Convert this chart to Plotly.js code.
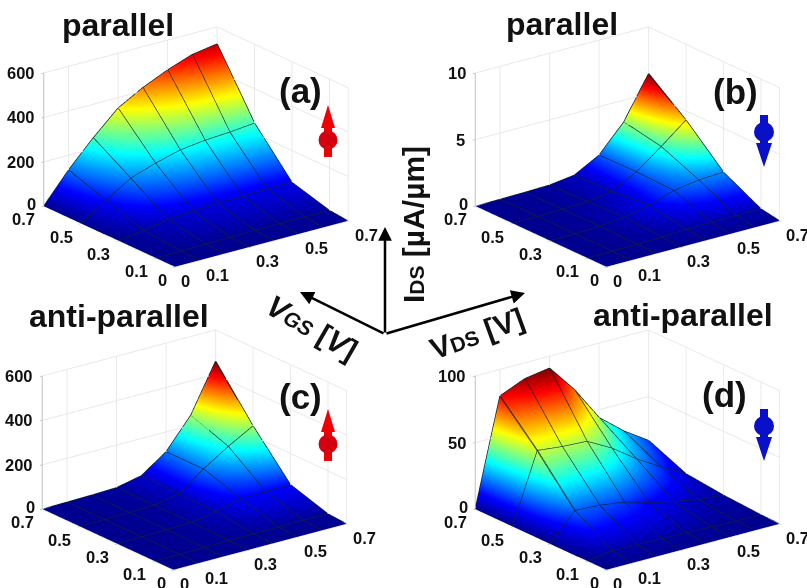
<!DOCTYPE html>
<html><head><meta charset="utf-8">
<script src="https://cdn.plot.ly/plotly-3.0.1.min.js"></script>
<style>html,body{margin:0;padding:0;background:#fff}#c{width:807px;height:588px}</style>
</head><body><div id="c"></div>
<script>
const vds=[0,0.1,0.2,0.3,0.4,0.5,0.6,0.7];
const vgs=[0,0.1,0.3,0.5,0.7];
const xyTicks=[0,0.1,0.3,0.5,0.7];
const aZ=[[0,0,0,0,0,0,0,0],
[0,2,4,5,6,7,8,8],
[0,17,35,45,50,53,55,56],
[0,74,144,182,212,226,233,244],
[0,133,248,352,415,465,505,523]];
const bZ=[[0,0,0,0,0,0,0,0],
[0,0.02,0.05,0.1,0.18,0.22,0.24,0.25],
[0,0.03,0.1,0.3,0.7,1.3,1.6,1.7],
[0,0.03,0.07,0.15,0.4,1.4,2.8,4.3],
[0,0.02,0.05,0.1,0.35,1.36,3.35,6.5]];
const cZ=[[0,0,0,0,0,0,0,0],
[0,1,2,3,4,5,6,6],
[0,1,4,8,25,55,57,59],
[0,1,3,6,27,110,182,245],
[0,2,4,8,32,110,245,459]];
const dZ=[[0,0,0,0,0,0,0,0],
[0,3,2.5,2,1.5,1,0.5,0.3],
[0,20,19,16.5,11,7,3.5,2],
[0,52,50,49,39,26,15,5],
[0,80,88,91,70,44,29,17]];
const zTicksAC=[0,200,400,600], zTicksB=[0,5,10], zTicksD=[0,50,100];
const panels=[
 {z:aZ,zMax:600,zt:zTicksAC,cx:196,cy:147,cmax:560},
 {z:bZ,zMax:10,zt:zTicksB,cx:627.5,cy:147,cmax:6.5},
 {z:cZ,zMax:600,zt:zTicksAC,cx:194.5,cy:450,cmax:459},
 {z:dZ,zMax:100,zt:zTicksD,cx:627.5,cy:450,cmax:91}];
const W=807,H=588,halfH=138;
const eyeDist=2.2, boxScale=1.575;
const jet=[[0,'rgb(0,0,143)'],[0.125,'rgb(0,0,255)'],[0.375,'rgb(0,255,255)'],[0.625,'rgb(255,255,0)'],[0.875,'rgb(255,0,0)'],[1,'rgb(128,0,0)']];
const tickfont={family:'Liberation Sans',size:16.5,color:'#111',weight:700};
const meshLine={color:'#14242e',width:2.5};
function axis(vals,range,line){return {title:{text:''},range:range,tickmode:'array',tickvals:vals,showticklabels:false,
 showgrid:true,gridcolor:'#e8e8e8',gridwidth:2,zeroline:false,showline:line,linecolor:'#c0c0c0',linewidth:2,ticks:'outside',ticklen:3,tickcolor:'#999',showspikes:false,showbackground:false};}
function tick(x,y,z,text,dx,dy){return {x:x,y:y,z:z,text:text,showarrow:false,xshift:dx,yshift:-dy,xanchor:'center',yanchor:'middle',font:tickfont};}
const data=[],layout={width:W,height:H,margin:{l:0,r:0,t:0,b:0},paper_bgcolor:'#fff',showlegend:false,annotations:[],shapes:[]};
panels.forEach((p,i)=>{
 const sid=i?'scene'+(i+1):'scene';
 data.push({type:'surface',scene:sid,x:vds,y:vgs,z:p.z,colorscale:jet,cmin:0,cmax:p.cmax,showscale:false,hoverinfo:'skip',
  lighting:{ambient:1,diffuse:0,specular:0,roughness:1,fresnel:0},
  contours:{x:{show:false,highlight:false},y:{show:false,highlight:false},z:{show:false,highlight:false}}});
 vgs.forEach((g,r)=>{ if(r>0) data.push({type:'scatter3d',scene:sid,mode:'lines',x:vds,y:vds.map(()=>g),z:p.z[r],line:meshLine,hoverinfo:'skip'}); });
 vds.forEach((v,c)=>{ if(c>0) data.push({type:'scatter3d',scene:sid,mode:'lines',x:vgs.map(()=>v),y:vgs,z:p.z.map(row=>row[c]),line:meshLine,hoverinfo:'skip'}); });
 const hw=Math.min(p.cx,W-p.cx);
 const notes=[];
 xyTicks.forEach(t=>notes.push(tick(t,0,0,String(t),t===0?11:18,14)));
 xyTicks.forEach(t=>notes.push(tick(0,t,0,String(t),t===0?-12:-20,13)));
 p.zt.forEach(t=>notes.push(tick(0,0.7,t,String(t),t===0?-12:(String(t).length===1?-15:(String(t).length===2?-18:-23)),t===0?-2:0)));
 layout[sid]={domain:{x:[(p.cx-hw)/W,(p.cx+hw)/W],y:[Math.max(0,1-(p.cy+halfH)/H),Math.min(1,1-(p.cy-halfH)/H)]},
  aspectmode:'manual',aspectratio:{x:boxScale,y:boxScale,z:0.655*boxScale},
  camera:{projection:{type:'orthographic'},center:{x:0,y:0,z:0},up:{x:0,y:0,z:1},
   eye:{x:-0.565*eyeDist,y:-0.747*eyeDist,z:0.351*eyeDist}},
  xaxis:axis(xyTicks,[0,0.7],false),yaxis:axis(xyTicks,[0,0.7],false),zaxis:axis(p.zt,[0,p.zMax],true),bgcolor:'rgba(0,0,0,0)',annotations:notes};
});
function note(text,x,y,size,angle,color){layout.annotations.push({xref:'paper',yref:'paper',x:x/W,y:1-y/H,xanchor:'center',yanchor:'middle',showarrow:false,text:text,textangle:angle||0,
 font:{family:'Liberation Sans',size:size,color:color||'#111',weight:700}});}
note('parallel',118,25,32);note('parallel',562,24,32);
note('anti-parallel',119,316,32);note('anti-parallel',683,315,32);
note('(a)',300,90,35);note('(b)',735,92,35);note('(c)',300,396,35);note('(d)',724,394,35);
note('I<span style="font-size:21px">DS</span> [µA/µm]',413,224,30,-90);
note('<i>V</i><span style="font-size:21px"><i>GS</i></span> [<i>V</i>]',312,327,30,30);
note('V<span style="font-size:21px">DS</span> [V]',477,333,30,-20);
function arrow(x,y,ax,ay){layout.annotations.push({xref:'paper',yref:'paper',axref:'paper',ayref:'paper',x:x/W,y:1-y/H,ax:ax/W,ay:1-ay/H,text:'',showarrow:true,arrowhead:2,arrowsize:1.1,arrowwidth:2.5,arrowcolor:'#000'});}
arrow(385,227,385,334);arrow(300,292,385,334);arrow(525,293,385,334);
function path(pts,color){layout.shapes.push({type:'path',xref:'paper',yref:'paper',fillcolor:color,line:{width:0},
 path:'M'+pts.map(q=>(q[0]/W)+','+(1-q[1]/H)).join('L')+'Z'});}
function circle(x,y,r,color){layout.shapes.push({type:'circle',xref:'paper',yref:'paper',x0:(x-r)/W,x1:(x+r)/W,y0:1-(y+r)/H,y1:1-(y-r)/H,fillcolor:color,line:{width:0}});}
function spinUp(x,tip,color,cc){path([[x,tip],[x+7,tip+23],[x-7,tip+23]],color);path([[x-4,tip+15],[x+4,tip+15],[x+4,tip+52],[x-4,tip+52]],color);circle(x,tip+35,9.5,cc);}
function spinDown(x,top,color){path([[x-4,top],[x+4,top],[x+4,top+35],[x-4,top+35]],color);circle(x,top+17,10,color);path([[x-8,top+28],[x+8,top+28],[x,top+52]],color);}
spinUp(328,105,'#f00000','#d40010');spinUp(328,409,'#f00000','#d40010');
spinDown(764,115,'#0a10c8');spinDown(764,409,'#0a10c8');
Plotly.newPlot('c',data,layout,{displayModeBar:false,staticPlot:false});
</script></body></html>
